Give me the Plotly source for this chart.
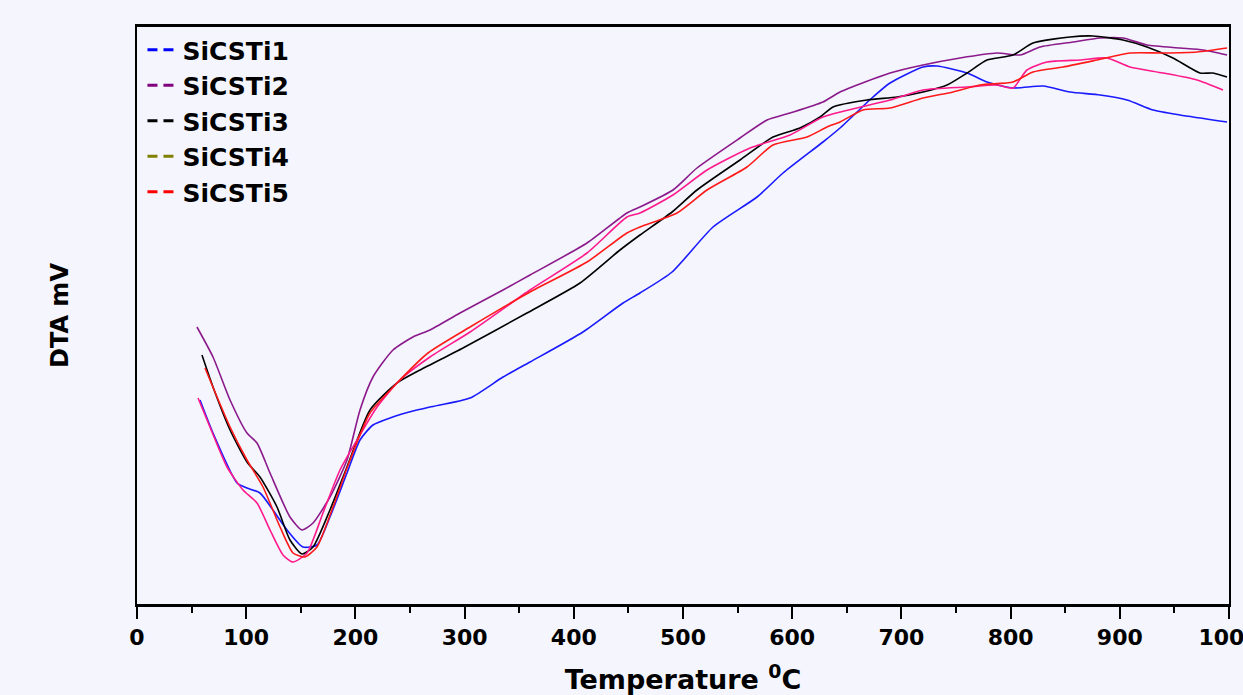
import plotly.graph_objects as go

# ---- data (Temperature in °C, DTA signal in arbitrary mV units) ----
t1 = [57.7, 69.6, 91.6, 100.7, 112.6, 124.5, 137.4, 152.0, 164.8, 176.7, 192.3, 204.2, 216.1, 231.7,
      252.7, 268.3, 305.0, 335.2, 359.9, 408.4, 445.1, 460.6, 490.0, 527.5, 567.8, 591.6, 628.2,
      643.8, 674.0, 689.6, 719.8, 732.6, 760.1, 778.4, 802.2, 829.7, 854.4, 881.9, 906.6, 930.4,
      955.1, 998.2]
v1 = [2.04, 1.71, 1.21, 1.16, 1.11, 0.94, 0.74, 0.57, 0.59, 0.87, 1.31, 1.64, 1.79, 1.86,
      1.93, 1.97, 2.06, 2.27, 2.42, 2.72, 3.01, 3.11, 3.32, 3.77, 4.07, 4.31, 4.62,
      4.76, 5.07, 5.21, 5.37, 5.38, 5.31, 5.22, 5.16, 5.18, 5.12, 5.09, 5.04, 4.94,
      4.89, 4.82]

t2 = [54.9, 69.6, 85.2, 100.7, 109.9, 121.8, 140.1, 151.1, 161.2, 176.7, 192.3, 204.2, 216.1, 234.4,
      252.7, 268.3, 295.8, 335.2, 359.9, 412.1, 448.7, 460.6, 490.8, 512.8, 552.2, 577.0, 598.0,
      628.2, 643.8, 689.6, 719.8, 753.7, 787.5, 808.6, 826.9, 857.1, 881.9, 902.9, 924.9, 955.1,
      976.2, 998.2]
v2 = [2.77, 2.47, 2.04, 1.71, 1.61, 1.31, 0.87, 0.74, 0.81, 1.07, 1.44, 1.94, 2.27, 2.54,
      2.67, 2.74, 2.91, 3.14, 3.29, 3.61, 3.91, 3.97, 4.14, 4.36, 4.66, 4.84, 4.91,
      5.02, 5.12, 5.31, 5.39, 5.46, 5.51, 5.49, 5.57, 5.62, 5.66, 5.66, 5.59, 5.56,
      5.54, 5.49]

t3 = [59.5, 69.6, 85.2, 100.7, 112.6, 128.2, 140.1, 151.1, 161.2, 176.7, 192.3, 213.4, 238.1, 259.2,
      298.5, 357.1, 405.7, 442.3, 460.6, 490.0, 512.8, 552.2, 582.4, 607.1, 625.5, 637.4, 668.5,
      696.0, 719.8, 741.8, 760.1, 778.4, 802.2, 820.5, 854.4, 875.5, 902.9, 924.9, 948.7, 973.4,
      985.3, 998.2]
v3 = [2.49, 2.17, 1.74, 1.42, 1.27, 0.97, 0.64, 0.50, 0.57, 0.94, 1.37, 1.94, 2.21, 2.34,
      2.56, 2.91, 3.21, 3.54, 3.69, 3.92, 4.14, 4.44, 4.67, 4.76, 4.87, 4.97, 5.04,
      5.07, 5.12, 5.19, 5.31, 5.44, 5.49, 5.61, 5.67, 5.68, 5.64, 5.57, 5.46, 5.31,
      5.31, 5.27]

t4 = [55.9, 66.8, 82.4, 97.1, 109.9, 121.8, 133.7, 142.9, 155.7, 170.3, 185.9, 201.5, 219.8, 240.8,
      268.3, 305.0, 359.9, 412.1, 448.7, 460.6, 490.8, 522.0, 561.4, 598.0, 628.2, 659.3, 689.6,
      719.8, 760.1, 787.5, 802.2, 815.0, 833.3, 863.6, 888.3, 909.3, 939.6, 970.7, 994.5]
v4 = [2.06, 1.77, 1.37, 1.14, 1.01, 0.74, 0.49, 0.42, 0.51, 0.91, 1.34, 1.64, 1.97, 2.24,
      2.47, 2.72, 3.14, 3.51, 3.87, 3.91, 4.09, 4.34, 4.56, 4.69, 4.87, 4.96, 5.04,
      5.14, 5.17, 5.19, 5.16, 5.34, 5.42, 5.44, 5.46, 5.37, 5.31, 5.24, 5.14]

t5 = [62.3, 73.3, 85.2, 100.7, 115.4, 131.0, 142.9, 153.8, 164.8, 179.5, 195.1, 213.4, 238.1, 266.5,
      305.0, 359.9, 412.1, 448.7, 460.6, 494.5, 522.0, 558.6, 582.4, 613.6, 631.9, 643.8, 664.8,
      689.6, 719.8, 747.3, 772.0, 802.2, 820.5, 848.0, 879.1, 909.3, 939.6, 970.7, 998.2]
v5 = [2.36, 2.07, 1.77, 1.44, 1.17, 0.77, 0.51, 0.47, 0.57, 0.97, 1.44, 1.91, 2.21, 2.51,
      2.77, 3.12, 3.42, 3.71, 3.77, 3.91, 4.14, 4.37, 4.59, 4.67, 4.77, 4.82, 4.94,
      4.96, 5.06, 5.12, 5.19, 5.22, 5.32, 5.37, 5.44, 5.51, 5.51, 5.52, 5.56]

names = ["SiCSTi1", "SiCSTi2", "SiCSTi3", "SiCSTi4", "SiCSTi5"]
legend_colors = ["#0000ff", "#800080", "#000000", "#808000", "#ff0000"]
line_colors = ["#1a1aff", "#8b1a8b", "#000000", "#ff1a8c", "#ff1a1a"]
series_t = [t1, t2, t3, t4, t5]
series_v = [v1, v2, v3, v4, v5]

bg = "#f4f5fd"
FONT = "DejaVu Sans"

fig = go.Figure()

for t, v, c, n in zip(series_t, series_v, line_colors, names):
    fig.add_trace(go.Scatter(x=t, y=v, mode="lines", name=n, showlegend=False,
                             line=dict(color=c, width=1.6, shape="spline", smoothing=0.6)))

for n, c in zip(names, legend_colors):
    fig.add_trace(go.Scatter(x=[None], y=[None], mode="lines", name=n, legendgroup=n,
                             line=dict(color=c, width=3, dash="10px,6px")))

fig.update_layout(
    width=1243, height=695,
    margin=dict(l=137, r=14, t=27, b=91, autoexpand=False),
    paper_bgcolor=bg, plot_bgcolor=bg,
    font=dict(family=FONT, color="black"),
    showlegend=True,
    legend=dict(x=0.005, y=1.0, xanchor="left", yanchor="top",
                bgcolor="rgba(0,0,0,0)", borderwidth=0,
                font=dict(family=FONT, size=25, weight="bold", color="black"),
                tracegroupgap=0, itemwidth=30),
    xaxis=dict(range=[0, 1000], dtick=100, tick0=0, automargin=False,
               showline=True, linecolor="black", linewidth=3, mirror=True,
               ticks="outside", ticklen=12, tickwidth=2, tickcolor="black",
               minor=dict(dtick=50, ticks="outside", ticklen=6, tickwidth=2, tickcolor="black"),
               showgrid=False, zeroline=False, ticklabeloverflow="allow",
               tickfont=dict(family=FONT, size=22, weight="bold"),
               title=dict(text="Temperature <sup>0</sup>C", standoff=27,
                          font=dict(family=FONT, size=27, weight="bold"))),
    yaxis=dict(range=[0, 5.77], automargin=False,
               showline=True, linecolor="black", linewidth=2, mirror=True,
               ticks="", showticklabels=False, showgrid=False, zeroline=False,
               title=dict(text="DTA mV", standoff=60,
                          font=dict(family=FONT, size=24, weight="bold"))),
)

fig.write_html("out.html")
